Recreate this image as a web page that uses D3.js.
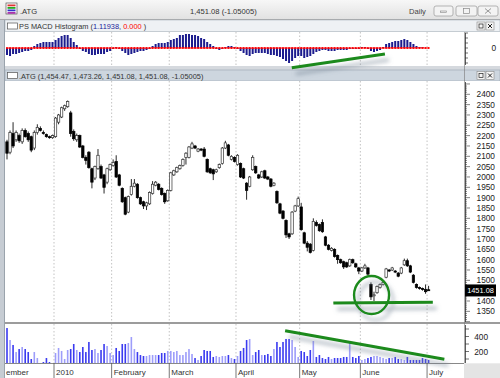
<!DOCTYPE html>
<html><head><meta charset="utf-8">
<script src="https://cdn.jsdelivr.net/npm/d3@7"></script>
<style>body{margin:0;background:#ececec;overflow:hidden}svg{display:block}</style>
</head><body><svg id="c" width="500" height="378"></svg>
<script>
// ---------- DATA ----------
const opens=[2170,2120,2210,2180,2200,2170,2225,2210,2195,2140,2215,2235,2215,2205,2195,2190,
2195,2265,2290,2330,2340,2310,2220,2180,2200,2150,2095,2120,2040,1995,2040,2050,2010,1975,2035,
2055,2075,2010,1945,1900,1830,1915,1955,1965,1900,1880,1860,1870,1920,1960,1965,1945,1920,1885,
1935,2010,2025,2040,2055,2095,2095,2140,2150,2125,2135,2135,2085,2040,2035,2025,2045,2065,2140,2155,2085,2095,
2060,2065,2040,1970,1955,2035,2050,2010,2000,2030,2000,1990,1960,1930,1870,1835,1790,1725,1725,1835,1860,
1855,1730,1680,1675,1645,1780,1770,1780,1710,1670,1645,1650,1620,1600,1590,1585,1570,1600,1580,1560,
1545,1560,1560,1480,1425,1440,1465,1480,1515,1550,1550,1545,1535,1535,1575,1595,1570,1525,1480,1465,1460,1455,1454.47];
const highs=[2180,2225,2265,2225,2210,2235,2235,2220,2200,2225,2255,2245,2225,2210,2200,2205,
2290,2305,2340,2350,2370,2320,2230,2210,2205,2155,2105,2125,2045,2055,2135,2060,2015,2045,2065,
2085,2105,2015,1950,1905,1910,1990,1990,1970,1905,1885,1880,1930,1980,1980,1970,1950,1925,1940,
2025,2035,2050,2060,2090,2120,2150,2170,2155,2140,2140,2145,2090,2045,2040,2040,2065,2145,2175,2160,2105,2100,
2110,2070,2045,1975,2005,2105,2055,2015,2030,2035,2005,1995,1975,1935,1875,1840,1795,1730,1835,1865,1905,
1875,1735,1690,1680,1800,1790,1775,1795,1715,1675,1660,1655,1625,1605,1595,1590,1605,1605,1585,1565,
1565,1580,1565,1490,1445,1475,1485,1500,1560,1555,1565,1550,1540,1565,1605,1605,1575,1530,1485,1470,1465,1480,1473.26];
const lows=[2085,2110,2140,2170,2165,2160,2190,2170,2120,2130,2205,2220,2205,2190,2185,2185,
2190,2255,2285,2320,2335,2195,2175,2170,2140,2090,2060,2040,1945,1985,2035,1990,1920,1965,2030,
2050,1995,1955,1875,1815,1825,1910,1950,1895,1865,1845,1840,1865,1915,1955,1935,1910,1870,1880,
1930,2005,2020,2035,2050,2060,2090,2135,2135,2120,2125,2095,2020,2015,1985,2020,2040,2060,2135,2100,2080,2070,
2055,1995,1990,1890,1950,2030,2015,1990,1995,1990,1985,1950,1955,1870,1820,1795,1705,1700,1720,1830,1855,
1740,1675,1640,1630,1640,1760,1735,1730,1665,1645,1640,1610,1580,1580,1555,1560,1565,1580,1560,1530,
1540,1555,1525,1405,1400,1435,1460,1475,1510,1540,1545,1535,1515,1530,1570,1565,1535,1485,1460,1455,1450,1435,1451.08];
const closes=[2115,2215,2150,2215,2175,2225,2195,2180,2130,2215,2240,2225,2210,2195,2190,2200,
2285,2300,2335,2345,2365,2210,2185,2200,2145,2095,2080,2045,1975,2050,2105,1995,1950,2040,2060,
2070,2000,1960,1880,1820,1905,1955,1970,1900,1870,1860,1875,1925,1965,1975,1940,1915,1880,1935,
2020,2030,2045,2055,2085,2115,2145,2160,2140,2135,2130,2100,2025,2020,2015,2035,2060,2140,2165,2105,2100,2075,
2105,2000,1995,1935,2000,2095,2020,1995,2025,1995,1990,1955,1970,1875,1825,1800,1720,1710,1830,1860,1895,
1745,1680,1660,1635,1785,1765,1740,1735,1670,1650,1655,1615,1600,1585,1565,1565,1600,1585,1565,1545,
1560,1570,1530,1420,1430,1470,1480,1490,1555,1545,1560,1540,1520,1560,1595,1570,1540,1490,1465,1460,1455,1445,1451.08];
const volumes=[513,353,287,193,233,260,233,193,100,193,113,47,60,113,60,40,
180,247,207,100,220,233,300,220,193,260,193,327,220,233,180,220,300,273,180,
153,247,207,300,300,313,393,233,193,153,140,140,153,153,153,153,180,180,207,
207,193,207,153,153,193,233,167,113,87,140,220,207,207,127,140,127,140,140,153,113,100,
140,207,247,353,367,153,193,220,153,153,167,140,233,327,260,327,367,367,353,260,127,
207,193,140,220,340,127,153,113,100,127,100,113,113,113,127,127,313,127,113,140,
87,100,113,127,140,140,127,113,100,113,113,127,100,100,87,127,87,87,87,87,113,100,87];
const macdHist=[-21,-24,-18,-18,-15,-12,-9,-9,-6,
6,12,15,18,18,18,18,24,30,36,39,39,30,18,9,
-3,-9,-12,-18,-21,-21,-18,-18,-18,-12,-9,-3,
3,
-3,-9,-15,-21,-18,-15,-12,-9,-9,-6,-3,
6,12,15,15,15,18,24,27,30,39,39,42,42,39,39,36,30,27,18,12,6,
-3,-6,-3,
3,6,6,3,
-3,-9,-15,-21,-24,-18,-15,-15,-15,-15,-18,-21,-21,-24,-27,-33,-39,-45,-39,-30,-24,-24,-30,-27,-24,-18,-12,-9,-6,-6,-9,-9,-9,-6,-6,-6,-6,-3,-3,-3,-3,
3,3,
-3,-9,-12,-9,-6,
3,12,15,18,21,21,24,27,24,18,12,6,3,3,0,0];
// first label is the visible tail of "December", cut by the panel edge in the reference
const monthLabels=["ember","2010","February","March","April","May","June","July"];
const monthStarts=[-1,16,35,54,76,97,117,139];
const priceTicks=[1350,1400,1500,1550,1600,1650,1700,1750,1800,1850,1900,1950,2000,2050,2100,2150,2200,2250,2300,2350,2400];
const volTickLabels=[200,400];
const macdTickLabels=[0];
// annotations (data space)
const macdTrend=[[93.9,-59],[124.6,-18]];
const priceSupport=[[107.6,1390],[140.4,1394]];
const circleMark={i:120.2,p:1429};
const volTrend=[[91.7,477],[144.2,96]];

// ---------- LAYOUT ----------
const svg=d3.select("#c");
const FONT="'Liberation Sans',Arial,sans-serif";
const PR=464;
const macdTop=32,macdBot=66,mainTop=81,mainBot=322,volTop=324,volBot=363;
const x=d3.scaleLinear().domain([0,139]).range([7,7+139*3.033]);
const yP=d3.scaleLinear().domain([1400,2400]).range([301,94.3]);
const yM=d3.scaleLinear().domain([0,30]).range([48,38]);
const yV=d3.scaleLinear().domain([0,400]).range([366.5,336.5]);

const defs=svg.append("defs");
const g1=defs.append("linearGradient").attr("id","tb").attr("x1",0).attr("y1",0).attr("x2",0).attr("y2",1);
g1.append("stop").attr("offset",0).attr("stop-color","#f7f7f7");
g1.append("stop").attr("offset",1).attr("stop-color","#e2e2e2");
const f=defs.append("filter").attr("id","sh").attr("filterUnits","userSpaceOnUse")
 .attr("x",0).attr("y",0).attr("width",500).attr("height",378);
f.append("feGaussianBlur").attr("in","SourceAlpha").attr("stdDeviation",2.2).attr("result","b");
f.append("feOffset").attr("in","b").attr("dx",4).attr("dy",6).attr("result","o");
f.append("feFlood").attr("flood-color","#6f7f90").attr("flood-opacity",0.55).attr("result","c");
f.append("feComposite").attr("in","c").attr("in2","o").attr("operator","in").attr("result","s");
const fm=f.append("feMerge");fm.append("feMergeNode").attr("in","s");fm.append("feMergeNode").attr("in","SourceGraphic");
[["cm",macdTop,macdBot],["cp",mainTop,mainBot],["cv",volTop,volBot]].forEach(([id,t,b])=>{
  defs.append("clipPath").attr("id",id).append("rect").attr("x",5).attr("y",t).attr("width",PR-5).attr("height",b-t);
});

// backgrounds
svg.append("rect").attr("width",500).attr("height",378).attr("fill","#ececec");
svg.append("rect").attr("x",0).attr("y",0).attr("width",500).attr("height",19).attr("fill","url(#tb)");
svg.append("line").attr("x1",0).attr("x2",500).attr("y1",19.5).attr("y2",19.5).attr("stroke","#a8a8a8");
svg.append("rect").attr("x",5).attr("y",20).attr("width",495).attr("height",11.5).attr("fill","#eef1f4").attr("stroke","#aab4be").attr("stroke-width",0.6);
svg.append("rect").attr("x",5).attr("y",macdTop).attr("width",495).attr("height",macdBot-macdTop).attr("fill","#fff");
svg.append("rect").attr("x",5).attr("y",macdBot).attr("width",495).attr("height",4).attr("fill","#d5d9de");
svg.append("rect").attr("x",5).attr("y",70).attr("width",495).attr("height",11).attr("fill","#cdd6df").attr("stroke","#9aa6b2").attr("stroke-width",0.6);
svg.append("rect").attr("x",5).attr("y",mainTop).attr("width",495).attr("height",mainBot-mainTop).attr("fill","#fff");
svg.append("rect").attr("x",5).attr("y",mainBot).attr("width",495).attr("height",2).attr("fill","#9c9c9c");
svg.append("rect").attr("x",5).attr("y",volTop).attr("width",495).attr("height",volBot-volTop).attr("fill","#fff");
svg.append("rect").attr("x",0).attr("y",volBot).attr("width",PR).attr("height",378-volBot).attr("fill","#fff");
svg.append("line").attr("x1",0).attr("x2",PR).attr("y1",volBot+0.5).attr("y2",volBot+0.5).attr("stroke","#888");
svg.append("rect").attr("x",PR).attr("y",volBot+1).attr("width",500-PR).attr("height",378-volBot).attr("fill","#e4e4e4");

// gridlines (month boundaries)
const gridX=monthStarts.map(s=>x(s-0.5));
[[macdTop,macdBot],[mainTop,mainBot],[volTop,volBot]].forEach(([t,b])=>{
  svg.append("g").selectAll("line").data(gridX.slice(1)).join("line")
   .attr("x1",d=>d).attr("x2",d=>d).attr("y1",t).attr("y2",b)
   .attr("stroke","#b4b4b4").attr("stroke-dasharray","1.5,2").attr("stroke-width",0.8);
});

// ---------- MACD ----------
const gm=svg.append("g").attr("clip-path","url(#cm)");
gm.selectAll("rect").data(macdHist).join("rect")
 .attr("x",(d,i)=>x(i)-1).attr("width",2)
 .attr("y",d=>Math.min(yM(d),yM(0))).attr("height",d=>Math.abs(yM(d)-yM(0)))
 .attr("fill","#1c1c8e");
gm.append("line").attr("x1",x(0)-1).attr("x2",x(139)+1).attr("y1",yM(0)).attr("y2",yM(0)).attr("stroke","#f00").attr("stroke-width",1);
gm.selectAll("circle").data(macdHist).join("circle").attr("cx",(d,i)=>x(i)).attr("cy",yM(0)).attr("r",0.9).attr("fill","#f00");

// ---------- PRICE ----------
const gp=svg.append("g").attr("clip-path","url(#cp)");
const idx=d3.range(closes.length);
gp.selectAll("line.w").data(idx).join("line").attr("class","w")
 .attr("x1",i=>x(i)).attr("x2",i=>x(i)).attr("y1",i=>yP(highs[i])).attr("y2",i=>yP(lows[i]))
 .attr("stroke","#111").attr("stroke-width",0.9);
gp.selectAll("rect").data(idx).join("rect")
 .attr("x",i=>x(i)-1.2).attr("width",2.4)
 .attr("y",i=>yP(Math.max(opens[i],closes[i])))
 .attr("height",i=>Math.max(1,Math.abs(yP(opens[i])-yP(closes[i]))))
 .attr("fill",i=>closes[i]>=opens[i]?"#fff":"#000")
 .attr("stroke",i=>closes[i]>=opens[i]?"#333":"#000").attr("stroke-width",0.7);

// ---------- VOLUME ----------
const gv=svg.append("g").attr("clip-path","url(#cv)");
gv.selectAll("rect").data(volumes).join("rect")
 .attr("x",(d,i)=>x(i)-0.8).attr("width",1.6)
 .attr("y",d=>yV(d)).attr("height",d=>Math.max(0,volBot-yV(d)))
 .attr("fill",(d,i)=>closes[i]>=opens[i]?"#9d9dfa":"#3b3bf0");

// ---------- RIGHT AXES ----------
const axisCol="#222";
svg.append("line").attr("x1",PR+0.5).attr("x2",PR+0.5).attr("y1",macdTop).attr("y2",volBot).attr("stroke","#777").attr("stroke-width",0.6);
const minor=d3.range(1300,2460,10);
svg.append("g").selectAll("line").data(minor).join("line")
 .attr("x1",PR+1).attr("x2",d=>PR+1+(d%50===0?5:2)).attr("y1",d=>yP(d)).attr("y2",d=>yP(d))
 .attr("stroke","#333").attr("stroke-width",0.6);
svg.append("line").attr("x1",PR+1.5).attr("x2",PR+1.5).attr("y1",mainTop+1).attr("y2",mainBot).attr("stroke","#333").attr("stroke-width",0.8);
svg.append("g").selectAll("text").data(priceTicks).join("text")
 .attr("x",495).attr("y",d=>yP(d)+3).attr("text-anchor","end")
 .attr("font-family",FONT).attr("font-size",8.3).attr("fill",axisCol).text(d=>d);
const last=closes[closes.length-1];
svg.append("rect").attr("x",465).attr("y",yP(last)-6).attr("width",31).attr("height",12).attr("fill","#000");
svg.append("text").attr("x",480.5).attr("y",yP(last)+2.8).attr("text-anchor","middle").attr("font-family",FONT)
 .attr("font-size",7.4).attr("fill","#fff").text(d3.format(".2f")(last));
svg.append("g").selectAll("line").data([-45,-30,-15,0,15,30,45]).join("line")
 .attr("x1",PR+1).attr("x2",PR+4).attr("y1",d=>yM(d)).attr("y2",d=>yM(d)).attr("stroke","#333").attr("stroke-width",0.7);
svg.append("line").attr("x1",PR+1.5).attr("x2",PR+1.5).attr("y1",macdTop+1).attr("y2",macdBot-1).attr("stroke","#333").attr("stroke-width",0.8);
svg.append("g").selectAll("text").data(macdTickLabels).join("text")
 .attr("x",496).attr("y",d=>yM(d)+3).attr("text-anchor","end").attr("font-family",FONT).attr("font-size",8.3).attr("fill",axisCol).text(d=>d);
svg.append("g").selectAll("line").data([100,200,300,400,500]).join("line")
 .attr("x1",PR+1).attr("x2",PR+5).attr("y1",d=>yV(d)).attr("y2",d=>yV(d)).attr("stroke","#333").attr("stroke-width",0.7);
svg.append("line").attr("x1",PR+1.5).attr("x2",PR+1.5).attr("y1",volTop+1).attr("y2",volBot).attr("stroke","#333").attr("stroke-width",0.8);
svg.append("g").selectAll("text").data(volTickLabels).join("text")
 .attr("x",488).attr("y",d=>yV(d)+3).attr("text-anchor","end").attr("font-family",FONT).attr("font-size",8.3).attr("fill",axisCol).text(d=>d);

// ---------- X AXIS LABELS ----------
svg.append("g").selectAll("line").data(gridX.slice(1)).join("line")
 .attr("x1",d=>d).attr("x2",d=>d).attr("y1",volBot).attr("y2",378).attr("stroke","#555").attr("stroke-width",0.8);
svg.append("g").selectAll("text").data(monthLabels).join("text")
 .attr("x",(d,i)=>i===0?6:gridX[i]+2).attr("y",375).attr("font-family",FONT).attr("font-size",8).attr("fill","#333").text(d=>d);

// left strip
svg.append("rect").attr("x",0).attr("y",20).attr("width",5).attr("height",358).attr("fill","#c6ccd3");
svg.append("line").attr("x1",4.5).attr("x2",4.5).attr("y1",20).attr("y2",378).attr("stroke","#8f98a2").attr("stroke-width",0.8);

// ---------- HEADERS ----------
const ic=svg.append("g");
ic.append("rect").attr("x",6).attr("y",3).attr("width",11).attr("height",11).attr("fill","#fff").attr("stroke","#555").attr("stroke-width",0.7);
[["#d33",4.5],["#2a2",7],["#33c",9.5],["#a3a",12]].forEach(([c,y])=>ic.append("rect").attr("x",7.5).attr("y",y).attr("width",8).attr("height",1.8).attr("fill",c));
svg.append("text").attr("x",20).attr("y",14).attr("font-family",FONT).attr("font-size",7.6).attr("fill","#333").text(".ATG");
svg.append("text").attr("x",190).attr("y",14).attr("font-family",FONT).attr("font-size",7.6).attr("fill","#333").text("1,451.08 (-1.05005)");
svg.append("text").attr("x",409).attr("y",14).attr("font-family",FONT).attr("font-size",7.6).attr("fill","#444").text("Daily");
[[434,19],[456,21],[478,20]].forEach(([bx,bw],k)=>{
  svg.append("rect").attr("x",bx).attr("y",6).attr("width",bw).attr("height",10).attr("rx",2).attr("fill","#f3f3f3").attr("stroke","#9a9a9a").attr("stroke-width",0.7);
  const cx=bx+bw/2;
  if(k===0) svg.append("rect").attr("x",cx-3).attr("y",11).attr("width",6).attr("height",1.5).attr("fill","none").attr("stroke","#888").attr("stroke-width",0.6);
  if(k===1) svg.append("rect").attr("x",cx-3).attr("y",8.5).attr("width",6).attr("height",5).attr("fill","none").attr("stroke","#888").attr("stroke-width",0.7);
  if(k===2){svg.append("path").attr("d",`M${cx-3},8.5L${cx+3},13.5M${cx+3},8.5L${cx-3},13.5`).attr("stroke","#999").attr("stroke-width",1);}
});
function header(y,parts){
  svg.append("rect").attr("x",7.5).attr("y",y-6).attr("width",10).attr("height",6).attr("fill","#fff").attr("stroke","#555").attr("stroke-width",0.7);
  const t=svg.append("text").attr("x",19).attr("y",y).attr("font-family",FONT).attr("font-size",7.4);
  parts.forEach(([s,c])=>t.append("tspan").attr("fill",c).text(s));
  svg.append("rect").attr("x",477).attr("y",y-7).attr("width",8).attr("height",8).attr("fill","#f4f4f4").attr("stroke","#888").attr("stroke-width",0.6);
  svg.append("rect").attr("x",479).attr("y",y-5).attr("width",4).attr("height",4).attr("fill","none").attr("stroke","#222").attr("stroke-width",0.7);
  svg.append("rect").attr("x",486).attr("y",y-7).attr("width",8).attr("height",8).attr("fill","#f4f4f4").attr("stroke","#888").attr("stroke-width",0.6);
  svg.append("path").attr("d",`M488,${y-5}L492,${y-1}M492,${y-5}L488,${y-1}`).attr("stroke","#222").attr("stroke-width",1);
}
header(29,[["PS MACD Histogram (","#333"],["1.11938","#24249a"],[", ","#333"],["0.000","#f00"],[" )","#333"]]);
header(78.5,[[".ATG (1,454.47, 1,473.26, 1,451.08, 1,451.08, -1.05005)","#333"]]);

// ---------- ANNOTATIONS ----------
const green="#1d8a1d";
const ga=svg.append("g").attr("filter","url(#sh)");
ga.append("line").attr("x1",x(macdTrend[0][0])).attr("y1",yM(macdTrend[0][1])).attr("x2",x(macdTrend[1][0])).attr("y2",yM(macdTrend[1][1]))
 .attr("stroke",green).attr("stroke-width",3);
ga.append("line").attr("x1",x(priceSupport[0][0])).attr("y1",yP(priceSupport[0][1])).attr("x2",x(priceSupport[1][0])).attr("y2",yP(priceSupport[1][1]))
 .attr("stroke",green).attr("stroke-width",3);
ga.append("ellipse").attr("cx",x(circleMark.i)).attr("cy",yP(circleMark.p)).attr("rx",17.5).attr("ry",19)
 .attr("fill","none").attr("stroke",green).attr("stroke-width",2.4);
ga.append("line").attr("x1",x(volTrend[0][0])).attr("y1",yV(volTrend[0][1])).attr("x2",x(volTrend[1][0])).attr("y2",yV(volTrend[1][1]))
 .attr("stroke",green).attr("stroke-width",3);
</script></body></html>
